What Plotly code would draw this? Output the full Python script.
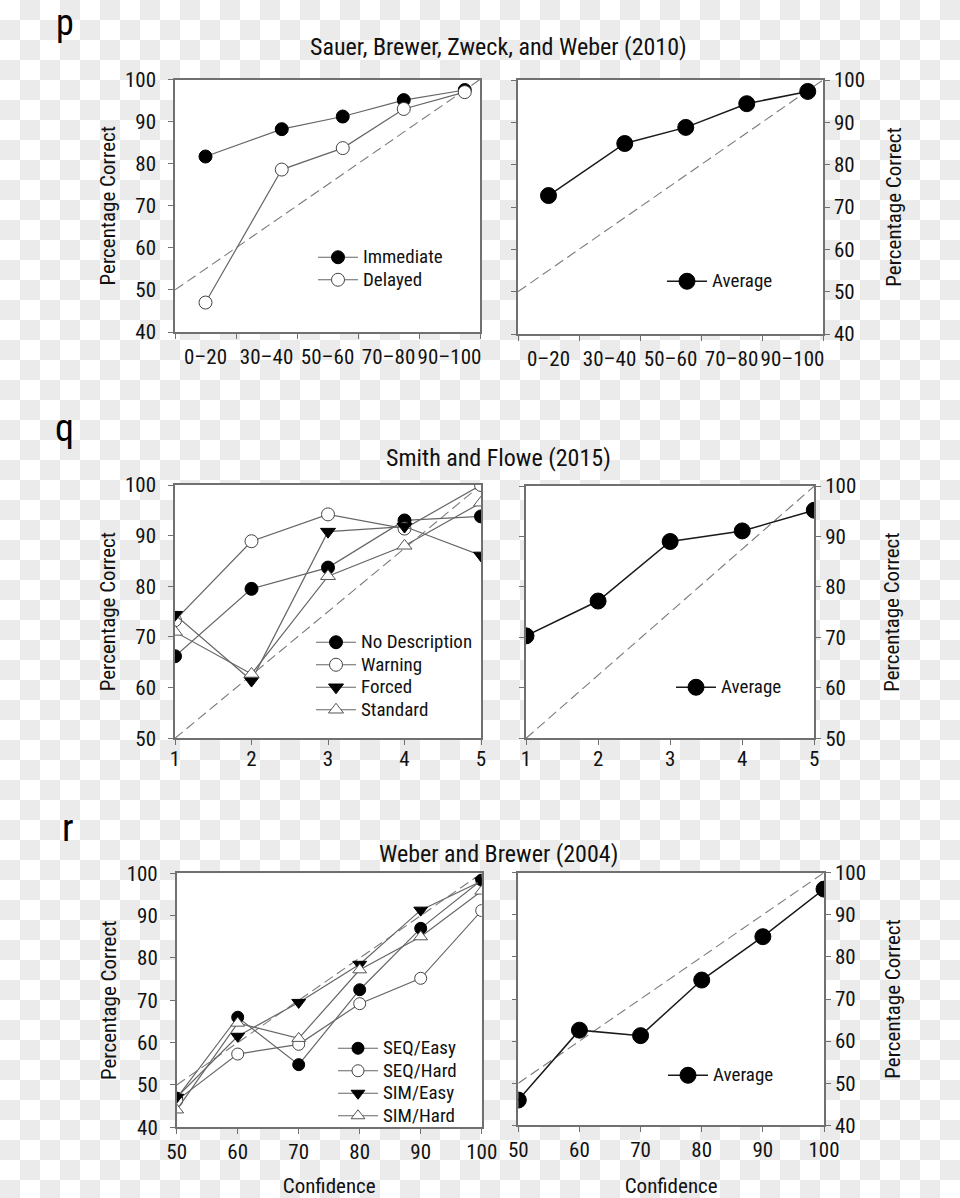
import plotly.graph_objects as go

W, H = 960, 1198

# ---------------- data ----------------
# Panel p: Sauer, Brewer, Zweck, and Weber (2010)
p_conf = [10, 35, 55, 75, 95]
p_bin_labels = ["0–20", "30–40", "50–60", "70–80", "90–100"]
p_label_pos = [10, 30, 50, 70, 90]
p_tick_pos = [0, 20, 40, 60, 80, 100]
p_immediate = [81.7, 88.2, 91.2, 95.1, 97.5]
p_delayed = [47.0, 78.6, 83.7, 93.0, 97.0]
p_average = [72.7, 85.0, 88.8, 94.4, 97.3]
p_diag_x = [0, 100]
p_diag_y = [50, 100]

# Panel q: Smith and Flowe (2015)
q_conf = [1, 2, 3, 4, 5]
q_nodesc = [66.2, 79.5, 83.7, 93.0, 93.8]
q_warning = [73.3, 88.9, 94.2, 91.4, 100.0]
q_forced = [74.4, 61.4, 90.8, 91.8, 86.1]
q_standard = [71.0, 62.7, 82.0, 88.0, 96.5]
q_average = [70.3, 77.2, 89.0, 91.1, 95.2]
q_diag_x = [1, 5]
q_diag_y = [50, 100]

# Panel r: Weber and Brewer (2004)
r_conf = [50, 60, 70, 80, 90, 100]
r_seq_easy = [46.9, 66.0, 54.8, 72.5, 87.0, 98.4]
r_seq_hard = [46.3, 57.3, 59.6, 69.2, 75.2, 91.2]
r_sim_easy = [47.1, 61.5, 69.5, 78.5, 91.3, 98.2]
r_sim_hard = [44.1, 64.6, 61.0, 77.2, 85.0, 95.8]
r_average = [46.0, 62.6, 61.3, 74.5, 84.8, 96.1]
r_diag_x = [50, 100]
r_diag_y = [50, 100]

# ---------------- styling ----------------
FONT = "Liberation Sans Narrow, Arial Narrow, Roboto Condensed, DejaVu Sans Condensed, Liberation Sans, sans-serif"
FRAME = "#707070"
SERIES_LINE = "#666666"
AVG_LINE = "#1a1a1a"
DIAG = "#7a7a7a"
TXT = "#111111"
LEG_TEXT_PX = 19
CHECK_GREY = "#ebebeb"


def px_x(a, b):
    return [a / W, b / W]


def px_y(top, bottom):
    return [1 - bottom / H, 1 - top / H]


fig = go.Figure()


def diag(x, y, xa, ya):
    fig.add_trace(go.Scatter(x=x, y=y, mode="lines", xaxis=xa, yaxis=ya,
                             line=dict(color=DIAG, width=1.1, dash="10px,5px"),
                             showlegend=False, hoverinfo="skip"))


def series(x, y, name, xa, ya, legend, symbol, fill, size, line_color, line_w, outline):
    label = f'<span style="font-size:{LEG_TEXT_PX}px">{name}</span>'
    fig.add_trace(go.Scatter(
        x=x, y=y, name=label, mode="lines+markers", xaxis=xa, yaxis=ya, legend=legend,
        line=dict(color=line_color, width=line_w),
        marker=dict(symbol=symbol, size=size, color=fill,
                    line=dict(color=outline, width=1)),
        hovertemplate=f"{name}: %{{y}}<extra></extra>",
    ))


# p panels
diag(p_diag_x, p_diag_y, "x", "y")
series(p_conf, p_immediate, "Immediate", "x", "y", "legend", "circle", "#000000", 13, SERIES_LINE, 1.2, "#000000")
series(p_conf, p_delayed, "Delayed", "x", "y", "legend", "circle", "#ffffff", 13, SERIES_LINE, 1.2, "#444444")
diag(p_diag_x, p_diag_y, "x2", "y2")
series(p_conf, p_average, "Average", "x2", "y2", "legend2", "circle", "#000000", 16, AVG_LINE, 1.5, "#000000")

# q panels
diag(q_diag_x, q_diag_y, "x3", "y3")
series(q_conf, q_nodesc, "No Description", "x3", "y3", "legend3", "circle", "#000000", 13, SERIES_LINE, 1.2, "#000000")
series(q_conf, q_warning, "Warning", "x3", "y3", "legend3", "circle", "#ffffff", 13, SERIES_LINE, 1.2, "#444444")
series(q_conf, q_forced, "Forced", "x3", "y3", "legend3", "triangle-down", "#000000", 13, SERIES_LINE, 1.2, "#000000")
series(q_conf, q_standard, "Standard", "x3", "y3", "legend3", "triangle-up", "#ffffff", 13, SERIES_LINE, 1.2, "#555555")
diag(q_diag_x, q_diag_y, "x4", "y4")
series(q_conf, q_average, "Average", "x4", "y4", "legend4", "circle", "#000000", 16, AVG_LINE, 1.5, "#000000")

# r panels
diag(r_diag_x, r_diag_y, "x5", "y5")
series(r_conf, r_seq_easy, "SEQ/Easy", "x5", "y5", "legend5", "circle", "#000000", 12, SERIES_LINE, 1.2, "#000000")
series(r_conf, r_seq_hard, "SEQ/Hard", "x5", "y5", "legend5", "circle", "#ffffff", 12, SERIES_LINE, 1.2, "#444444")
series(r_conf, r_sim_easy, "SIM/Easy", "x5", "y5", "legend5", "triangle-down", "#000000", 12, SERIES_LINE, 1.2, "#000000")
series(r_conf, r_sim_hard, "SIM/Hard", "x5", "y5", "legend5", "triangle-up", "#ffffff", 12, SERIES_LINE, 1.2, "#555555")
diag(r_diag_x, r_diag_y, "x6", "y6")
series(r_conf, r_average, "Average", "x6", "y6", "legend6", "circle", "#000000", 16, AVG_LINE, 1.5, "#000000")

tickfont = dict(family=FONT, size=21, color=TXT)
titlefont = dict(family=FONT, size=21, color=TXT)


def base_axis(**kw):
    d = dict(showline=True, linecolor=FRAME, linewidth=1.5, mirror=True,
             ticks="outside", ticklen=5, tickcolor=FRAME, tickwidth=1.2,
             showgrid=False, zeroline=False, tickfont=tickfont, automargin=False,
             fixedrange=True)
    d.update(kw)
    return d


layout = dict(
    width=W, height=H,
    margin=dict(l=0, r=0, t=0, b=0),
    paper_bgcolor="#ffffff", plot_bgcolor="#ffffff",
    font=dict(family=FONT, color=TXT),
    hovermode="closest",
)

# domains (pixel measurements of the reference)
dom = {
    1: (px_x(175, 480), px_y(79.5, 332)),
    2: (px_x(518, 823), px_y(80, 334)),
    3: (px_x(175, 481), px_y(485, 738.3)),
    4: (px_x(526, 814.3), px_y(486, 738.3)),
    5: (px_x(176.7, 481.7), px_y(873.3, 1127.3)),
    6: (px_x(518.3, 824), px_y(872.7, 1125.3)),
}
right_title_standoff = {2: 22, 4: 29, 6: 20}


def key(prefix, i):
    return prefix if i == 1 else f"{prefix}{i}"


ylab = "Percentage Correct"
for i in range(1, 7):
    xd, yd = dom[i]
    xname = "x" if i == 1 else f"x{i}"
    yname = "y" if i == 1 else f"y{i}"
    right = (i % 2 == 0)
    # x axes
    if i in (1, 2):
        xa = base_axis(domain=xd, anchor=yname, range=[0, 100],
                       tickmode="array", tickvals=p_label_pos, ticktext=p_bin_labels,
                       ticks="", ticklabelstandoff=5,
                       minor=dict(tickmode="array", tickvals=p_tick_pos, ticks="outside",
                                  ticklen=5, tickcolor=FRAME, tickwidth=1.2))
    elif i in (3, 4):
        xa = base_axis(domain=xd, anchor=yname, range=[1, 5], tickmode="array",
                       tickvals=q_conf, ticklabelstandoff=-4)
    else:
        xa = base_axis(domain=xd, anchor=yname, range=[50, 100], tickmode="array",
                       tickvals=r_conf, ticklabelstandoff=0,
                       title=dict(text="Confidence", font=titlefont, standoff=24))
    # y axes
    if i in (3, 4):
        yr, yt = [50, 100], [50, 60, 70, 80, 90, 100]
    else:
        yr, yt = [40, 100], [40, 50, 60, 70, 80, 90, 100]
    ya = base_axis(domain=yd, anchor=xname, range=yr, tickmode="array", tickvals=yt,
                   side="right" if right else "left",
                   mirror="ticks" if right else True,
                   ticklabelstandoff=0 if right else 8,
                   title=dict(text=ylab, font=titlefont,
                              standoff=right_title_standoff.get(i, 4)))
    layout[key("xaxis", i)] = xa
    layout[key("yaxis", i)] = ya

# legends (item spacing set by the small base font; labels rendered at LEG_TEXT_PX)
leg_font = dict(family=FONT, size=15, color=TXT)


def legend_at(xpx, ypx):
    return dict(x=xpx / W, y=1 - ypx / H, xanchor="left", yanchor="top",
                bgcolor="rgba(0,0,0,0)", borderwidth=0, font=leg_font,
                itemwidth=40, tracegroupgap=0, itemclick=False, itemdoubleclick=False)


layout["legend"] = legend_at(313, 241)
layout["legend2"] = legend_at(662, 265)
layout["legend3"] = legend_at(311, 626)
layout["legend4"] = legend_at(671, 671)
layout["legend5"] = legend_at(333, 1032)
layout["legend6"] = legend_at(663, 1059)

# titles and panel letters
ann = []
for txt, ycen in [("Sauer, Brewer, Zweck, and Weber (2010)", 47),
                  ("Smith and Flowe (2015)", 458),
                  ("Weber and Brewer (2004)", 854)]:
    ann.append(dict(text=txt, x=498 / W, y=1 - ycen / H, xref="paper", yref="paper",
                    xanchor="center", yanchor="middle", showarrow=False,
                    font=dict(family=FONT, size=24, color=TXT)))
ann.append(dict(text="p", x=65 / W, y=1.0, xref="paper", yref="paper",
                xanchor="center", yanchor="top", showarrow=False,
                font=dict(family=FONT, size=36, color="#000000")))
for txt, xc, ycen in [("q", 64, 428), ("r", 68, 828)]:
    ann.append(dict(text=txt, x=xc / W, y=1 - ycen / H, xref="paper", yref="paper",
                    xanchor="center", yanchor="middle", showarrow=False,
                    font=dict(family=FONT, size=38, color="#000000")))
layout["annotations"] = ann

# checkerboard backdrop of the reference picture (20 px cells), one path shape
CELL = 20
parts = []
for row in range((H + CELL - 1) // CELL):
    for col in range(W // CELL):
        if (row + col) % 2 == 1:
            x0, x1 = col * CELL / W, (col + 1) * CELL / W
            y0, y1 = 1 - row * CELL / H, max(0.0, 1 - (row + 1) * CELL / H)
            parts.append(f"M{x0:.5f},{y0:.5f}H{x1:.5f}V{y1:.5f}H{x0:.5f}Z")
shapes = [dict(type="path", path="".join(parts), xref="paper", yref="paper",
               fillcolor=CHECK_GREY, line=dict(width=0), layer="below")]
# white plotting areas on top of the backdrop
for i in range(1, 7):
    xn = "x" if i == 1 else f"x{i}"
    yn = "y" if i == 1 else f"y{i}"
    shapes.append(dict(type="rect", xref=f"{xn} domain", yref=f"{yn} domain",
                       x0=0, x1=1, y0=0, y1=1, fillcolor="#ffffff",
                       line=dict(width=0), layer="below"))
layout["shapes"] = shapes

fig.update_layout(**layout)
fig.write_html("out.html",
               config={"displayModeBar": False},
               post_script="document.body.style.margin='0';document.body.style.overflow='hidden';")
